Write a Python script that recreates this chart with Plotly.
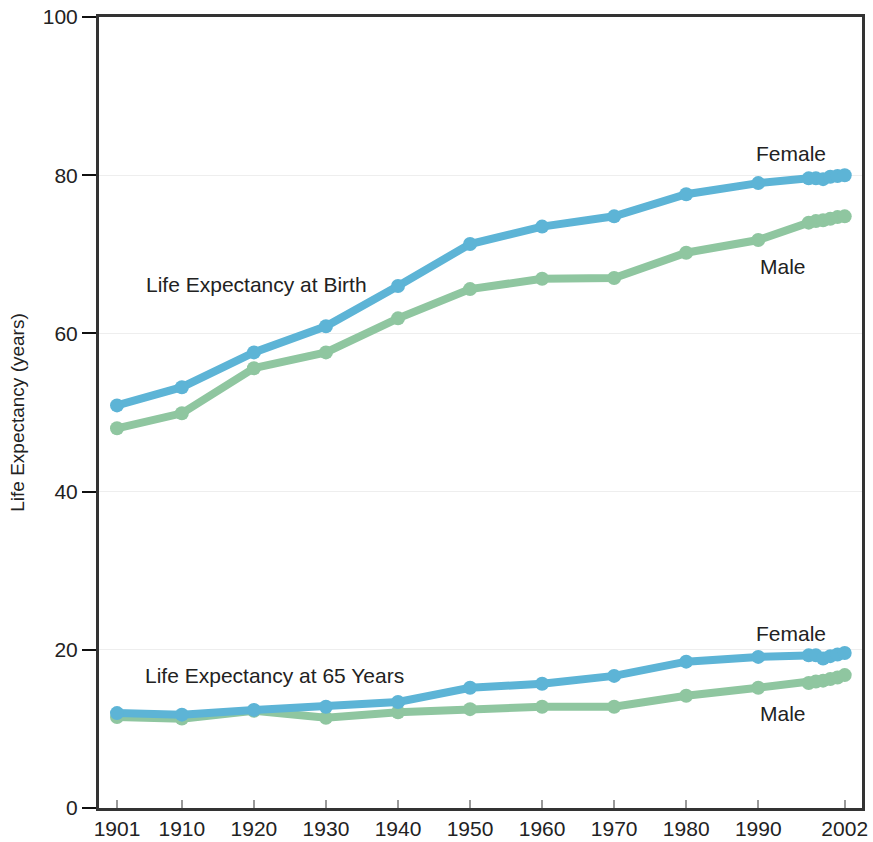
import plotly.graph_objects as go

years = [1901, 1910, 1920, 1930, 1940, 1950, 1960, 1970, 1980, 1990, 1997, 1998, 1999, 2000, 2001, 2002]
female_birth = [50.9, 53.2, 57.6, 60.9, 66.0, 71.3, 73.5, 74.8, 77.6, 79.0, 79.6, 79.6, 79.5, 79.8, 79.9, 80.0]
male_birth = [48.0, 49.9, 55.6, 57.6, 61.9, 65.6, 66.9, 67.0, 70.2, 71.8, 74.0, 74.2, 74.3, 74.5, 74.7, 74.8]
female_65 = [12.0, 11.8, 12.4, 12.8, 13.4, 15.2, 15.7, 16.7, 18.5, 19.1, 19.3, 19.3, 18.9, 19.2, 19.4, 19.6]
male_65 = [11.5, 11.3, 12.3, 11.4, 12.1, 12.5, 12.8, 12.8, 14.2, 15.2, 15.8, 16.0, 16.1, 16.3, 16.5, 16.8]

x_ticks = [1901, 1910, 1920, 1930, 1940, 1950, 1960, 1970, 1980, 1990, 2002]
y_ticks = [0, 20, 40, 60, 80, 100]

BLUE = "#5db4d6"
GREEN = "#8fc6a0"

fig = go.Figure()
for ys, col in [(male_65, GREEN), (female_65, BLUE), (male_birth, GREEN), (female_birth, BLUE)]:
    fig.add_trace(go.Scatter(x=years, y=ys, mode="lines+markers",
                             line=dict(color=col, width=8),
                             marker=dict(color=col, size=14),
                             showlegend=False, cliponaxis=False))

FAM = "Liberation Sans, Arial, sans-serif"
font = dict(family=FAM, size=21, color="#222222")
ann = [
    ("Female", 1994.6, 82.8),
    ("Male", 1993.4, 68.4),
    ("Life Expectancy at Birth", 1920.4, 66.2),
    ("Life Expectancy at 65 Years", 1922.9, 16.7),
    ("Female", 1994.6, 22.1),
    ("Male", 1993.4, 11.9),
]
annotations = [dict(text=t, x=x, y=y, xref="x", yref="y", showarrow=False, font=font) for t, x, y in ann]

fig.update_layout(
    width=873, height=842,
    margin=dict(l=99, r=11, t=17, b=34),
    paper_bgcolor="white", plot_bgcolor="white",
    font=font,
    annotations=annotations,
    xaxis=dict(range=[1898.5, 2004.4], tickvals=x_ticks, ticktext=[str(v) for v in x_ticks],
               ticks="inside", ticklen=8, tickcolor="#999999", tickwidth=2,
               showgrid=False, zeroline=False, automargin=False, ticklabeloverflow="allow",
               showline=True, linecolor="#333333", linewidth=3, mirror=True,
               tickfont=font),
    yaxis=dict(range=[0, 100], tickvals=y_ticks, automargin=False, ticklabeloverflow="allow",
               ticks="outside", ticklen=14, tickcolor="#111111", tickwidth=2,
               showgrid=True, gridcolor="#eeeeee", gridwidth=1, zeroline=False,
               showline=True, linecolor="#333333", linewidth=3, mirror=True,
               tickfont=font,
               title=dict(text="Life Expectancy (years)", font=dict(family=FAM, size=19, color="#222222"), standoff=14)),
)

fig.write_html("out.html",
               config={"displayModeBar": False},
               post_script="document.body.style.margin='0';document.body.style.overflow='hidden';")
